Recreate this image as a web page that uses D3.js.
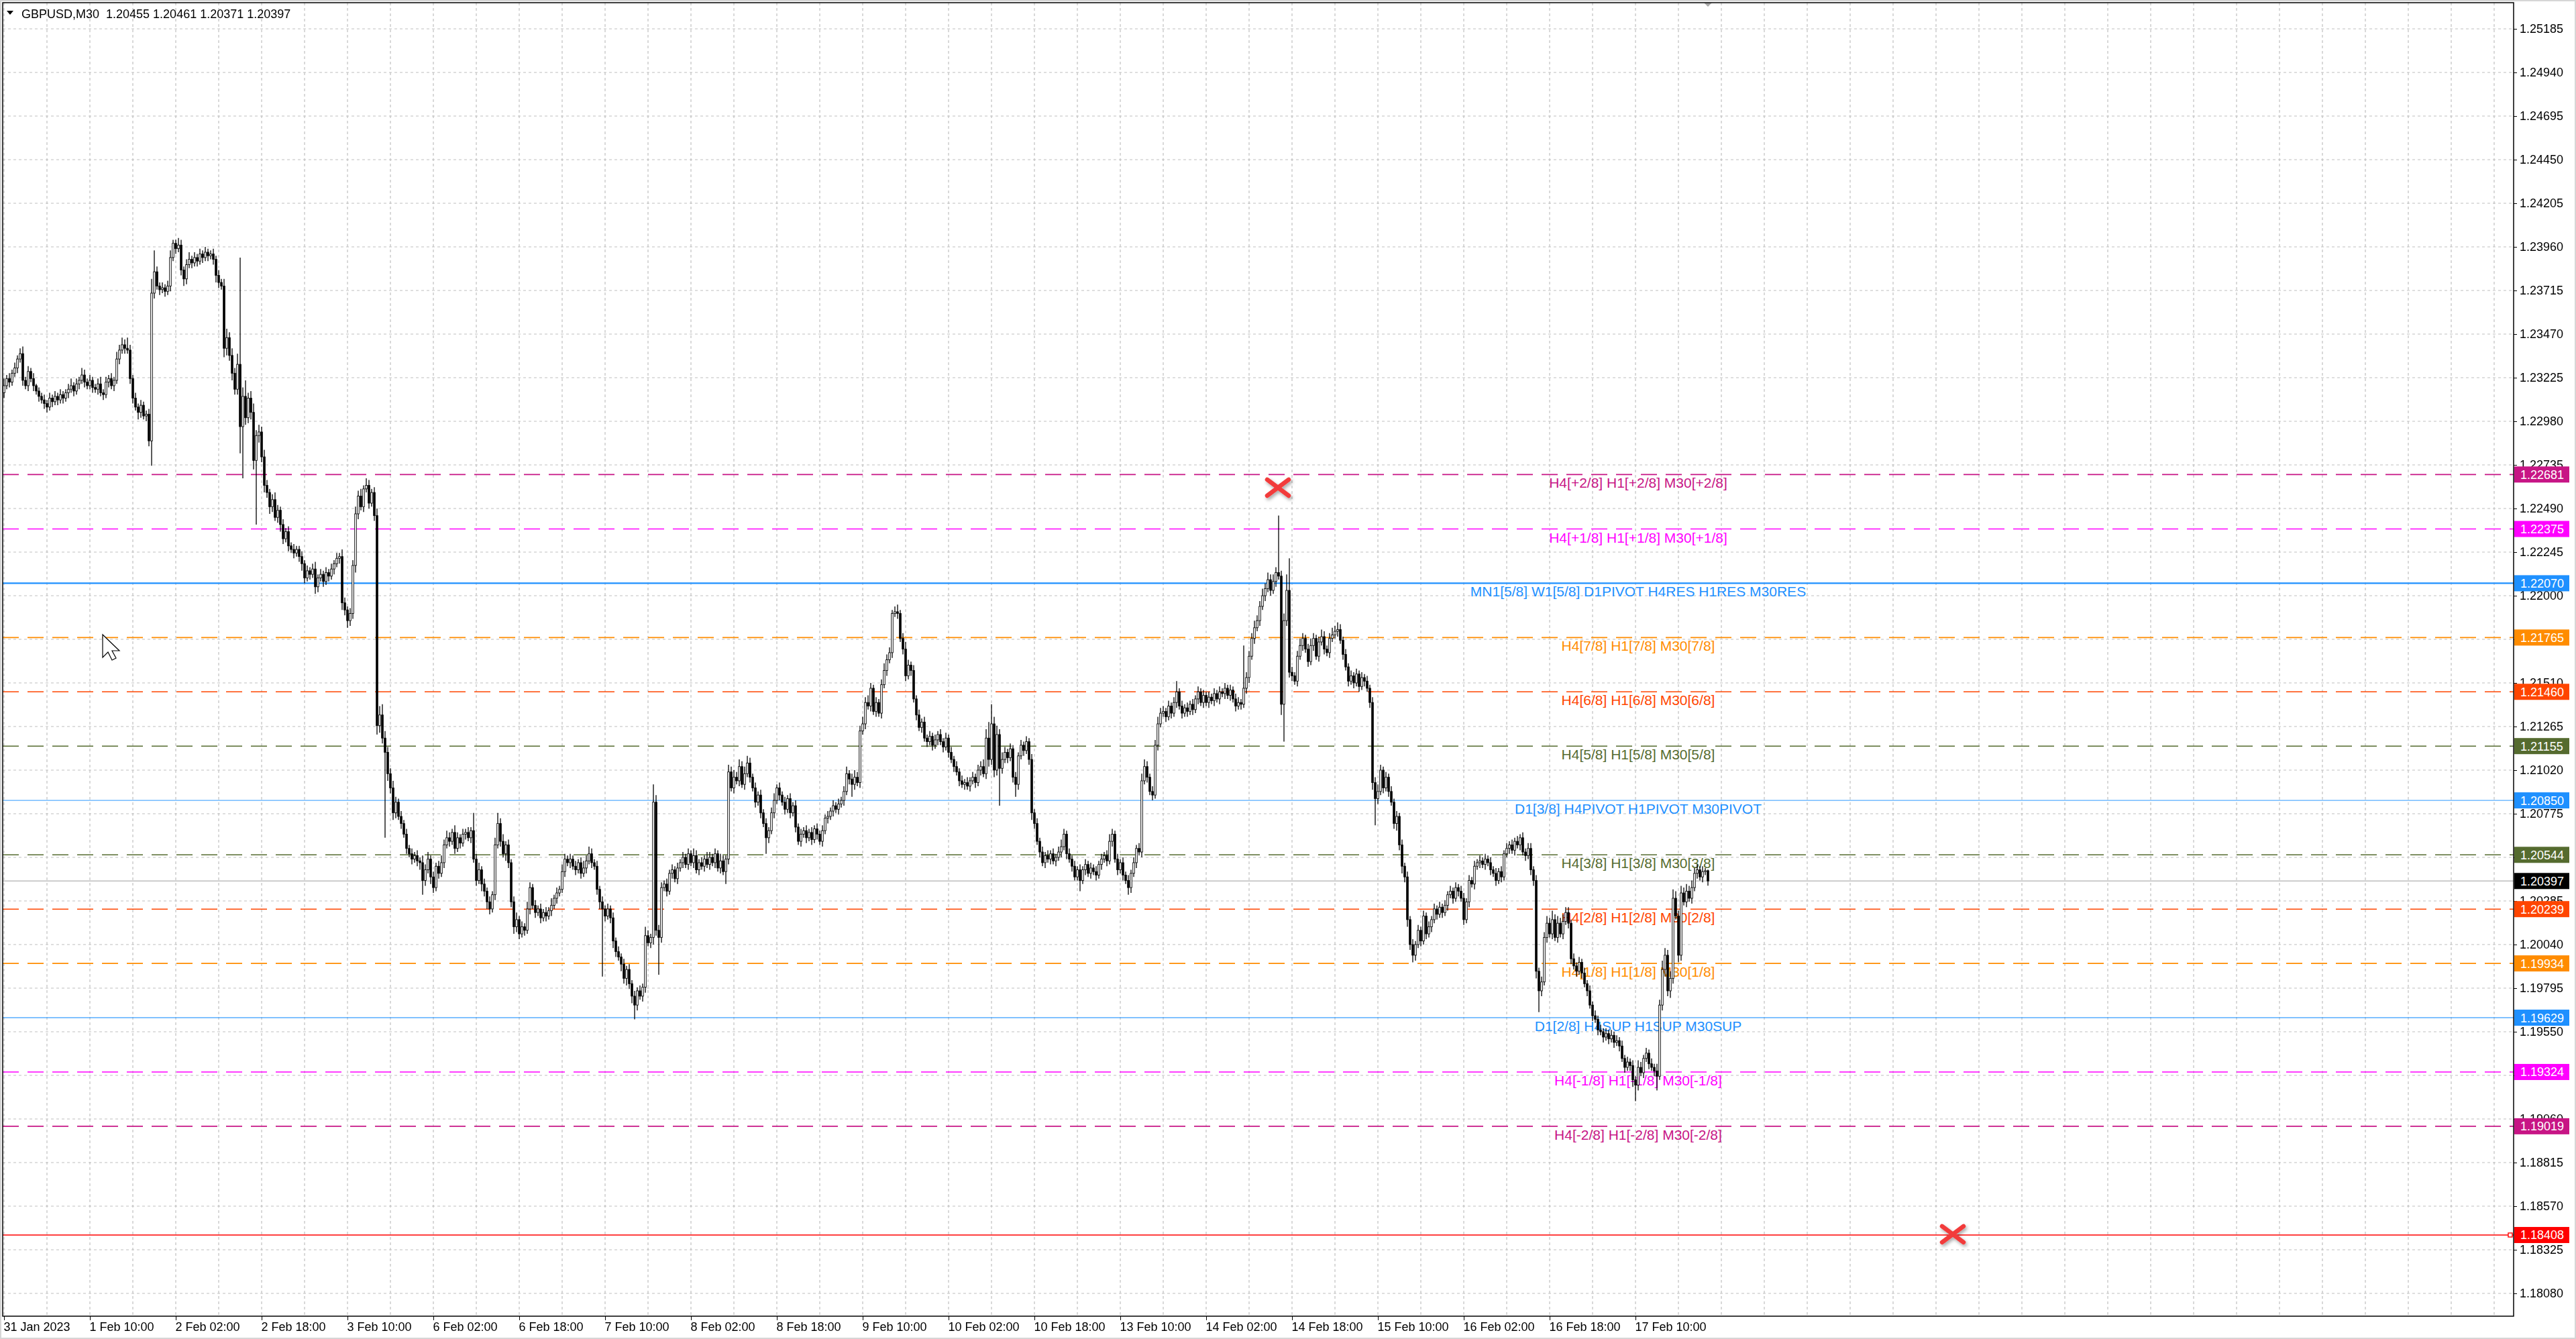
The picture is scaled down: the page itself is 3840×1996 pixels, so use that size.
<!DOCTYPE html>
<html lang="en">
<head>
<meta charset="UTF-8">
<title>GBPUSD,M30</title>
<script src="https://d3js.org/d3.v7.min.js"></script>
<style>
  html, body { margin: 0; padding: 0; background: #fff; }
  svg { display: block; }
  text { font-family: "Liberation Sans", Arial, sans-serif; }
</style>
</head>
<body>
<div id="chart"></div>
<script>
// ---------------------------------------------------------------
// data (prices x 10000, one entry per M30 bar,
// first bar = 31 Jan 18:00, last bar = 17 Feb 23:30)
const titleText = "GBPUSD,M30  1.20455 1.20461 1.20371 1.20397";
const firstOpen = 12314;
const closes = [
  12318,12322,12320,12325,12328,12333,12336,12321,12318,12326,12322,12318,12315,12312,12310,12308,
  12306,12311,12309,12312,12310,12313,12311,12314,12316,12318,12315,12319,12321,12324,12320,12318,
  12321,12317,12316,12319,12314,12313,12320,12322,12318,12321,12333,12338,12341,12339,12338,12322,
  12311,12306,12303,12307,12301,12302,12287,12370,12382,12374,12372,12373,12371,12374,12390,12398,
  12395,12397,12383,12378,12386,12389,12387,12390,12388,12392,12390,12393,12391,12392,12389,12380,
  12376,12374,12339,12345,12335,12325,12316,12330,12295,12312,12300,12311,12303,12276,12290,12292,
  12278,12262,12258,12250,12254,12244,12248,12240,12232,12236,12228,12226,12224,12226,12222,12218,
  12210,12214,12212,12215,12205,12210,12212,12208,12213,12211,12215,12218,12221,12222,12196,12192,
  12186,12190,12217,12246,12256,12250,12260,12262,12252,12258,12245,12127,12133,12120,12112,12100,
  12092,12078,12084,12076,12072,12066,12058,12055,12052,12054,12051,12050,12040,12046,12052,12042,
  12036,12048,12044,12050,12060,12064,12062,12067,12058,12064,12061,12066,12067,12064,12068,12052,
  12040,12046,12038,12034,12028,12024,12032,12060,12072,12062,12055,12060,12050,12028,12014,12018,
  12010,12014,12012,12024,12036,12026,12022,12024,12019,12022,12020,12023,12026,12030,12033,12035,
  12045,12052,12050,12052,12048,12046,12050,12044,12047,12051,12055,12050,12048,12035,12028,12024,
  12020,12024,12019,12006,12000,11997,11993,11985,11990,11982,11975,11970,11978,11975,11980,12009,
  12005,12008,12084,12012,12008,12036,12038,12034,12044,12046,12041,12047,12050,12053,12049,12055,
  12050,12054,12046,12050,12048,12052,12049,12053,12050,12055,12047,12051,12045,12052,12101,12092,
  12098,12096,12104,12094,12100,12106,12098,12092,12084,12088,12078,12072,12064,12068,12078,12085,
  12092,12088,12084,12080,12086,12078,12082,12070,12062,12066,12068,12064,12067,12063,12069,12066,
  12062,12068,12075,12076,12079,12082,12080,12083,12085,12090,12100,12097,12094,12098,12095,12124,
  12128,12140,12138,12148,12135,12140,12134,12150,12158,12164,12168,12190,12191,12190,12176,12170,
  12155,12161,12158,12142,12133,12126,12129,12120,12118,12121,12116,12119,12122,12118,12115,12120,
  12112,12108,12104,12101,12096,12094,12095,12093,12096,12098,12095,12102,12104,12100,12120,12108,
  12128,12102,12122,12103,12108,12112,12109,12114,12098,12094,12110,12116,12113,12118,12108,12078,
  12072,12062,12056,12050,12054,12052,12055,12051,12053,12056,12059,12066,12055,12052,12048,12042,
  12046,12040,12046,12049,12044,12047,12045,12043,12049,12052,12054,12051,12062,12066,12052,12046,
  12050,12043,12040,12036,12044,12050,12058,12056,12096,12104,12098,12090,12088,12116,12128,12134,
  12135,12132,12138,12134,12140,12146,12138,12134,12137,12135,12139,12136,12142,12146,12140,12144,
  12140,12143,12141,12145,12142,12146,12145,12148,12144,12147,12142,12138,12140,12139,12148,12154,
  12166,12176,12182,12186,12194,12200,12204,12209,12203,12208,12213,12211,12139,12186,12203,12157,
  12155,12152,12166,12172,12176,12170,12163,12172,12176,12166,12174,12177,12170,12168,12176,12178,
  12180,12181,12175,12167,12160,12152,12155,12151,12156,12149,12154,12152,12148,12140,12095,12086,
  12090,12102,12092,12098,12090,12084,12072,12076,12060,12048,12042,12018,12004,11998,12004,12012,
  12006,12020,12010,12014,12018,12024,12021,12025,12022,12026,12032,12034,12030,12036,12034,12030,
  12018,12028,12040,12038,12048,12050,12051,12049,12052,12050,12046,12044,12040,12045,12042,12055,
  12058,12060,12057,12062,12060,12064,12056,12054,12058,12046,12040,11989,11978,11983,12008,12016,
  12010,12018,12008,12016,12010,12017,12022,12016,11996,11992,11989,11994,11988,11982,11978,11970,
  11964,11962,11956,11955,11952,11954,11951,11953,11949,11950,11947,11940,11935,11938,11936,11928,
  11925,11935,11932,11940,11943,11937,11935,11933,11930,11970,11990,11998,11978,11985,12030,12020,
  11998,12033,12028,12034,12030,12036,12044,12046,12042,12045,12045.5,12039.7
];
// wick lengths in pips above the body top / below the body bottom
const upperWick = [
  4,2,3,2,3,2,3,4,2,3,2,3,1,2,2,3, 2,3,2,3,2,3,2,2,3,4,2,3,2,4,3,2,
  3,2,2,3,4,2,3,2,3,2,4,3,4,3,6,3, 2,3,2,3,2,2,3,8,12,3,2,3,2,3,4,2,
  2,4,3,2,3,4,2,3,2,3,2,3,2,2,3,2, 3,2,4,5,3,4,3,6,60,5,9,3,4,5,3,4,
  3,4,3,2,3,4,3,2,3,2,3,2,3,2,2,3, 2,3,2,3,4,2,3,2,3,2,3,2,3,2,4,3,
  2,3,3,4,3,4,2,4,3,2,3,4,5,6,4,3, 3,4,3,2,3,2,3,2,3,2,3,2,4,3,4,2,
  3,2,3,4,3,4,3,2,4,3,2,3,2,3,2,10, 3,4,2,3,2,3,2,4,6,3,4,2,3,2,3,4,
  2,3,2,4,3,2,3,2,3,2,3,2,4,2,3,2, 4,3,2,3,2,3,2,3,4,3,4,3,2,3,2,3,
  2,3,2,3,2,3,2,3,2,3,2,3,2,3,2,5, 3,2,10,4,3,3,2,3,2,3,2,3,2,3,2,3,
  2,4,3,2,3,2,4,3,2,3,2,4,3,2,4,3, 4,3,4,3,4,4,3,2,3,2,3,2,3,2,3,4,
  2,3,2,3,2,3,2,3,2,3,2,3,2,3,2,3, 2,3,2,3,2,3,2,3,2,3,4,2,3,4,3,3,
  4,3,4,3,2,3,2,3,4,3,3,2,3,4,2,3, 4,3,2,3,2,3,2,3,2,3,2,3,2,3,2,3,
  2,3,2,3,2,3,2,3,2,3,2,3,3,4,5,9, 11,4,5,3,4,3,2,3,2,3,2,3,2,3,2,3,
  2,3,2,3,2,3,2,3,2,3,4,3,2,3,2,3, 2,3,2,3,2,3,2,3,2,3,2,3,4,3,2,3,
  2,3,2,3,2,3,2,3,4,4,3,2,3,3,4,3, 3,2,3,2,3,6,2,3,2,3,2,3,2,3,2,3,
  2,3,2,3,2,3,2,3,2,3,2,3,3,2,24,3, 3,3,4,3,3,4,3,4,3,4,3,32,3,4,9,18,
  3,2,3,4,3,2,3,4,3,2,3,4,3,2,3,4, 3,4,3,2,3,2,3,2,3,2,3,2,3,2,3,3,
  4,3,2,3,2,3,2,3,2,3,2,3,2,3,2,3, 2,3,2,3,2,3,2,3,2,3,2,3,2,3,2,3,
  3,2,3,2,3,2,3,2,3,2,3,2,3,2,3,2, 3,2,3,2,3,2,3,2,3,3,2,3,2,3,3,4,
  3,5,3,4,3,4,3,3,2,3,2,3,2,3,2,3, 2,3,2,3,2,3,2,3,2,3,2,3,2,3,2,3,
  2,4,3,2,3,2,3,2,4,3,5,4,3,4,5,4, 3,4,3,4,3,4,3,3,2,3,1.5,0.6
];
const lowerWick = [
  3,2,3,2,2,3,2,3,2,3,2,3,2,3,2,3, 3,2,3,2,3,2,3,2,3,2,3,2,3,2,3,2,
  2,3,2,3,2,3,2,3,2,3,2,3,2,3,2,3, 3,2,4,3,2,3,3,14,3,2,3,2,3,2,3,2,
  3,2,3,4,3,2,3,2,3,2,3,2,3,2,3,4, 3,2,5,4,3,4,3,3,15,29,4,3,4,5,36,4,
  3,4,3,4,3,2,3,4,3,2,3,2,3,2,3,4, 3,2,3,2,4,3,2,3,2,3,2,3,2,3,4,3,
  4,3,3,4,3,2,3,2,3,2,3,5,4,3,48,4, 3,4,3,2,3,2,3,2,3,2,3,4,8,3,2,4,
  3,2,3,2,3,2,3,2,3,2,3,2,3,2,3,2, 3,2,4,3,4,3,2,3,2,3,2,4,3,3,4,3,
  3,2,3,2,3,2,3,2,3,2,3,2,3,2,3,2, 2,3,2,3,2,3,2,3,2,3,2,3,2,3,4,38,
  3,2,3,4,3,2,4,3,4,3,4,8,3,2,3,3, 2,3,4,3,21,3,2,3,2,3,2,3,2,3,2,3,
  2,3,2,3,2,3,2,3,2,3,2,3,2,7,3,2, 3,2,3,2,3,2,3,2,3,2,3,2,9,3,2,3,
  2,3,2,3,2,3,2,3,2,3,2,3,2,3,2,3, 2,3,2,3,2,3,2,3,2,3,2,3,7,3,2,3,
  2,3,2,3,2,3,2,3,2,3,2,3,2,3,2,3, 3,2,3,2,3,2,3,2,3,2,3,2,3,2,3,2,
  3,2,3,2,3,2,3,2,3,2,3,2,3,2,3,4, 3,4,3,21,3,2,3,2,3,7,3,2,3,2,3,4,
  3,2,3,2,3,2,3,2,3,2,3,2,3,2,3,2, 2,6,2,3,2,3,2,3,2,3,2,3,2,3,2,3,
  2,3,2,4,3,2,3,2,3,2,3,2,3,2,3,2, 2,3,2,3,2,3,2,3,2,3,2,3,2,3,2,3,
  2,3,2,3,2,3,2,3,2,3,2,3,2,3,2,3, 3,2,3,2,3,2,3,2,3,2,3,2,6,21,3,3,
  3,2,3,2,3,2,3,2,3,2,3,2,3,2,3,2, 2,3,2,3,2,3,2,3,2,3,2,3,2,3,4,15,
  3,2,3,2,3,2,3,4,3,4,3,4,3,4,3,2, 3,2,3,2,3,2,3,2,3,2,3,2,3,2,3,2,
  3,2,3,2,3,2,3,2,3,2,3,2,3,2,3,2, 2,3,2,3,2,3,2,3,2,3,3,4,12,3,2,3,
  2,3,2,3,2,3,2,3,3,2,3,2,3,2,3,2, 3,2,3,2,3,2,3,2,3,2,3,2,3,2,3,4,
  9,3,2,3,2,3,2,3,8,2,3,4,3,4,3,2, 4,3,2,3,2,3,2,3,2,3,2,2.6
];

// price scale ticks (right axis)
const priceTicks = [
  1.25185, 1.24940, 1.24695, 1.24450, 1.24205, 1.23960, 1.23715, 1.23470, 1.23225, 1.22980,
  1.22735, 1.22490, 1.22245, 1.22000, 1.21755, 1.21510, 1.21265, 1.21020, 1.20775, 1.20530,
  1.20285, 1.20040, 1.19795, 1.19550, 1.19305, 1.19060, 1.18815, 1.18570, 1.18325, 1.18080
];
// time axis labels, one every 32 bars (16 hours)
const timeLabels = [
  "31 Jan 2023", "1 Feb 10:00", "2 Feb 02:00", "2 Feb 18:00", "3 Feb 10:00",
  "6 Feb 02:00", "6 Feb 18:00", "7 Feb 10:00", "8 Feb 02:00", "8 Feb 18:00",
  "9 Feb 10:00", "10 Feb 02:00", "10 Feb 18:00", "13 Feb 10:00", "14 Feb 02:00",
  "14 Feb 18:00", "15 Feb 10:00", "16 Feb 02:00", "16 Feb 18:00", "17 Feb 10:00"
];

// Murrey math / pivot levels
const levelPrices = [
  1.22681, 1.22375, 1.22070, 1.21765, 1.21460, 1.21155, 1.20850,
  1.20544, 1.20239, 1.19934, 1.19629, 1.19324, 1.19019, 1.18408
];
const levelNames = [
  "H4[+2/8] H1[+2/8] M30[+2/8]",
  "H4[+1/8] H1[+1/8] M30[+1/8]",
  "MN1[5/8] W1[5/8] D1PIVOT H4RES H1RES M30RES",
  "H4[7/8] H1[7/8] M30[7/8]",
  "H4[6/8] H1[6/8] M30[6/8]",
  "H4[5/8] H1[5/8] M30[5/8]",
  "D1[3/8] H4PIVOT H1PIVOT M30PIVOT",
  "H4[3/8] H1[3/8] M30[3/8]",
  "H4[2/8] H1[2/8] M30[2/8]",
  "H4[1/8] H1[1/8] M30[1/8]",
  "D1[2/8] H4SUP H1SUP M30SUP",
  "H4[-1/8] H1[-1/8] M30[-1/8]",
  "H4[-2/8] H1[-2/8] M30[-2/8]",
  ""
];
const bidPrice = 1.20397;
const labelBar = 609;               // bar the level texts are anchored to
const crossBars = [474.75, 726.25]; // red X objects
const crossPrices = [1.22607, 1.18412];

// ---------------------------------------------------------------
// styles
const levelColors = [
  "#C71585", "#FF00FF", "#1E90FF", "#FF8C00", "#FF4500", "#556B2F", "#1E90FF",
  "#556B2F", "#FF4500", "#FF8C00", "#1E90FF", "#FF00FF", "#C71585", "#FF0000"
];
const levelSolid = [false, false, true, false, false, false, true,
                    false, false, false, true, false, false, true];

const W = 3840, H = 1996;
const frame = { left: 4, top: 4, right: 3747, bottom: 1962 };

const svg = d3.select("#chart").append("svg")
  .attr("width", W).attr("height", H);

svg.append("defs").append("filter").attr("id", "shadow")
  .attr("x", "-50%").attr("y", "-50%").attr("width", "200%").attr("height", "200%")
  .append("feDropShadow")
  .attr("dx", 2).attr("dy", 3).attr("stdDeviation", 2.5)
  .attr("flood-color", "#000").attr("flood-opacity", 0.35);

svg.append("rect").attr("width", W).attr("height", H).attr("fill", "#fff");

// scales: 4 px per bar, 65 px per 0.00245
const x = d3.scaleLinear().domain([0, 635]).range([6, 6 + 4 * 635]);
const y = d3.scaleLinear().domain([1.18080, 1.25185]).range([43 + 29 * 65, 43]);

const clip = svg.append("clipPath").attr("id", "plot")
  .append("rect")
  .attr("x", frame.left).attr("y", frame.top)
  .attr("width", frame.right - frame.left).attr("height", frame.bottom - frame.top);

const plot = svg.append("g").attr("clip-path", "url(#plot)");

// grid
const gridBars = d3.range(0, 59).map(k => k * 16);
plot.append("g").selectAll("line").data(gridBars).join("line")
  .attr("x1", d => x(d)).attr("x2", d => x(d))
  .attr("y1", frame.top).attr("y2", frame.bottom)
  .attr("stroke", "#c0c0c0").attr("stroke-width", 1.2).attr("stroke-dasharray", "4,4");
plot.append("g").selectAll("line").data(priceTicks).join("line")
  .attr("x1", frame.left).attr("x2", frame.right)
  .attr("y1", d => y(d)).attr("y2", d => y(d))
  .attr("stroke", "#c0c0c0").attr("stroke-width", 1.2).attr("stroke-dasharray", "4,4");

// level lines
const levels = levelPrices.map((p, i) => ({
  p, name: levelNames[i], color: levelColors[i], solid: levelSolid[i]
}));
plot.append("g").selectAll("line").data(levels).join("line")
  .attr("x1", frame.left).attr("x2", frame.right)
  .attr("y1", d => y(d.p)).attr("y2", d => y(d.p))
  .attr("stroke", d => d.color)
  .attr("stroke-width", (d, i) => i === 2 ? 2.2 : (d.solid ? 1.4 : 1.6))
  .attr("stroke-opacity", (d, i) => (i === 6 || i === 10) ? 0.75 : 1)
  .attr("stroke-dasharray", d => d.solid ? null : "24,13");

// bid line
plot.append("line")
  .attr("x1", frame.left).attr("x2", frame.right)
  .attr("y1", y(bidPrice)).attr("y2", y(bidPrice))
  .attr("stroke", "#bdbdbd").attr("stroke-width", 1.4);

// small square at the end of the red line
plot.append("rect")
  .attr("x", frame.right - 8).attr("y", y(levelPrices[13]) - 3)
  .attr("width", 6).attr("height", 6)
  .attr("fill", "#fff").attr("stroke", "#FF0000").attr("stroke-width", 1.4);

// level texts
plot.append("g").selectAll("text").data(levels.filter(d => d.name)).join("text")
  .attr("x", x(labelBar)).attr("y", d => y(d.p) + 20)
  .attr("text-anchor", "middle")
  .attr("font-size", 21)
  .attr("fill", d => d.color)
  .text(d => d.name);

// candles (open of each M30 bar = previous close)
const bars = closes.map((c, i) => {
  const o = i === 0 ? firstOpen : closes[i - 1];
  return {
    i,
    o: o / 1e4, c: c / 1e4,
    h: (Math.max(o, c) + upperWick[i]) / 1e4,
    l: (Math.min(o, c) - lowerWick[i]) / 1e4
  };
});

const candles = plot.append("g");
candles.selectAll("line").data(bars).join("line")
  .attr("x1", d => x(d.i)).attr("x2", d => x(d.i))
  .attr("y1", d => y(d.h)).attr("y2", d => y(d.l))
  .attr("stroke", "#000").attr("stroke-width", 1.3);
candles.selectAll("rect").data(bars).join("rect")
  .attr("x", d => x(d.i) - 1.3)
  .attr("width", 2.6)
  .attr("y", d => y(Math.max(d.o, d.c)))
  .attr("height", d => Math.max(0.6, Math.abs(y(d.o) - y(d.c))))
  .attr("fill", d => d.c > d.o ? "#fff" : "#000")
  .attr("stroke", "#000").attr("stroke-width", 0.9);

// red X objects
const crosses = plot.append("g").attr("filter", "url(#shadow)")
  .selectAll("g").data(crossBars.map((b, i) => ({ b, p: crossPrices[i] }))).join("g")
  .attr("transform", d => `translate(${x(d.b)},${y(d.p)})`);
crosses.append("path")
  .attr("d", "M-16,-12L16,12M-16,12L16,-12")
  .attr("stroke", "#f23b3b").attr("stroke-width", 6.5).attr("stroke-linecap", "round")
  .attr("fill", "none");

// mouse cursor left on the screenshot
svg.append("path")
  .attr("transform", "translate(153,946)")
  .attr("d", "M0,0L0,34L8,26L14,38L20,35L14,24L25,24Z")
  .attr("fill", "#fff").attr("stroke", "#000").attr("stroke-width", 1.2);

// chart shift marker at the top
svg.append("path")
  .attr("d", `M${x(635) - 6},${frame.top}L${x(635) + 6},${frame.top}L${x(635)},${frame.top + 6}Z`)
  .attr("fill", "#a8a8a8");

// frame
svg.append("rect")
  .attr("x", frame.left).attr("y", frame.top)
  .attr("width", frame.right - frame.left).attr("height", frame.bottom - frame.top)
  .attr("fill", "none").attr("stroke", "#000").attr("stroke-width", 1.5);

// right price axis
const yAxis = svg.append("g")
  .attr("transform", `translate(${frame.right},0)`)
  .call(d3.axisRight(y).tickValues(priceTicks).tickFormat(d3.format(".5f"))
    .tickSize(5).tickPadding(4));
yAxis.select(".domain").remove();
yAxis.selectAll("text").attr("font-size", 18)
  .attr("font-family", "'Liberation Sans', Arial, sans-serif").attr("fill", "#000");

// bottom time axis
const xAxis = svg.append("g")
  .attr("transform", `translate(0,${frame.bottom})`)
  .call(d3.axisBottom(x).tickValues(timeLabels.map((_, k) => k * 32))
    .tickFormat((d, k) => timeLabels[k]).tickSize(6).tickPadding(3));
xAxis.select(".domain").remove();
xAxis.selectAll("text").attr("font-size", 18)
  .attr("font-family", "'Liberation Sans', Arial, sans-serif").attr("fill", "#000")
  .attr("text-anchor", "start").attr("dx", -1);

// price boxes on the axis
const boxes = svg.append("g").selectAll("g")
  .data(levels.concat([{ p: bidPrice, color: "#000" }])).join("g")
  .attr("transform", d => `translate(${frame.right + 1},${y(d.p)})`);
boxes.append("rect")
  .attr("x", 0).attr("y", -12).attr("width", 82).attr("height", 24)
  .attr("fill", d => d.color);
boxes.append("text")
  .attr("x", 9).attr("y", 6.5)
  .attr("font-size", 18).attr("fill", "#fff")
  .text(d => d3.format(".5f")(d.p));

// header
svg.append("path").attr("d", "M10,16L20,16L15,22Z").attr("fill", "#000");
svg.append("text").attr("x", 32).attr("y", 27)
  .attr("font-size", 18).attr("fill", "#000")
  .attr("xml:space", "preserve").style("white-space", "pre")
  .text(titleText);

// window border
svg.append("rect").attr("x", 1).attr("y", 1).attr("width", W - 2).attr("height", H - 2)
  .attr("fill", "none").attr("stroke", "#d6d6d6").attr("stroke-width", 2);
</script>
</body>
</html>
